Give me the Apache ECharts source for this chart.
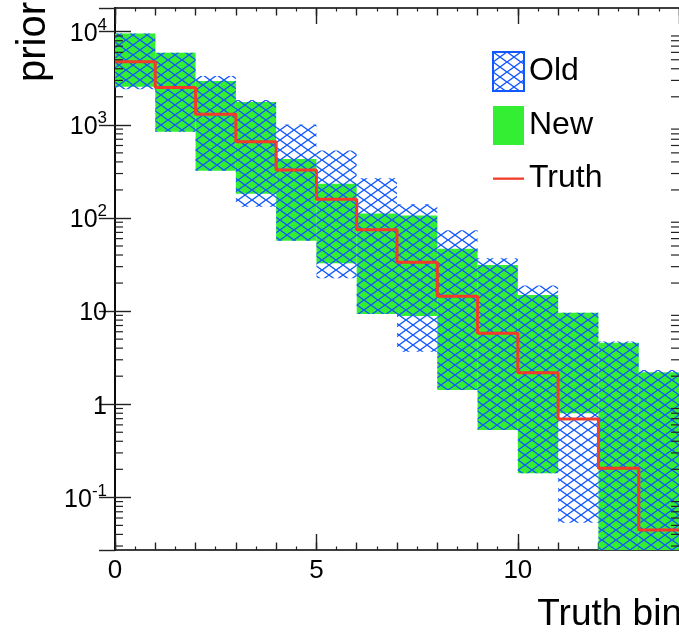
<!DOCTYPE html>
<html>
<head>
<meta charset="utf-8">
<script src="https://cdn.jsdelivr.net/npm/echarts@6/dist/echarts.min.js"></script>
<style>
  html, body { margin: 0; padding: 0; background: #fff; }
  #chart { width: 679px; height: 635px; }
</style>
</head>
<body>
<div id="chart"></div>
<script>
// truth bins, lower edge of each unit-wide bin
var binStart = [0, 1, 2, 3, 4, 5, 6, 7, 8, 9, 10, 11, 12, 13];
// "Old" prior band (hatched)
var oldLow  = [2410, 844, 322, 132, 57, 22.5, 9.3, 3.66, 1.42, 0.528, 0.181, 0.0534, 0.01, 0.01];
var oldHigh = [9560, 5950, 3340, 1850, 1010, 530, 267, 140, 73.7, 36.9, 18.8, 9.6, 4.71, 2.33];
// "New" prior band (green)
var newLow  = [2570, 844, 322, 182, 57, 32.6, 9.3, 8.85, 1.42, 0.528, 0.181, 0.798, 0.01, 0.01];
var newHigh = [9560, 5950, 2960, 1760, 430, 233, 112, 106, 46.6, 31.2, 14.9, 9.6, 4.57, 2.2];
// truth histogram
var truth   = [4760, 2520, 1300, 659, 327, 159, 74.8, 33.4, 14.4, 5.77, 2.18, 0.693, 0.205, 0.0445];

var xMin = 0, xMax = 14;
var yMin = 0.0272, yMax = 17970;
var minorMult = [2, 3, 4, 5, 6, 7, 8, 9];
var decadePow = [-2, -1, 0, 1, 2, 3, 4];

var FONT = 'Liberation Sans';
var BLUE = '#1258ff', GREEN = '#33ee33', RED = '#f03c28', TICK = '#222';

function makeHatch() {
  var c = document.createElement('canvas');
  c.width = 14; c.height = 10;
  var g = c.getContext('2d');
  g.strokeStyle = BLUE;
  g.lineWidth = 1.4;
  g.beginPath();
  g.moveTo(0, 0); g.lineTo(14, 10);
  g.moveTo(0, 10); g.lineTo(14, 0);
  g.stroke();
  return { image: c, repeat: 'repeat' };
}
var hatch = makeHatch();

var oldData = binStart.map(function (x, i) { return [x, oldLow[i], oldHigh[i]]; });
var newData = binStart.map(function (x, i) { return [x, newLow[i], newHigh[i]]; });
var truthData = binStart.map(function (x, i) { return [x, truth[i]]; });
truthData.push([xMax, truth[truth.length - 1]]);

var minorData = [];
decadePow.forEach(function (p) {
  minorMult.forEach(function (m) {
    var v = m * Math.pow(10, p);
    if (v > yMin && v < yMax) minorData.push([0, v]);
  });
});

function bandRenderer(fill) {
  return function (params, api) {
    var cs = params.coordSys;
    var x0 = api.value(0);
    var p1 = api.coord([x0, api.value(2)]);
    var p2 = api.coord([x0 + 1, api.value(1)]);
    var top = Math.max(p1[1], cs.y);
    var bot = Math.min(p2[1], cs.y + cs.height);
    return {
      type: 'rect',
      shape: { x: p1[0], y: top, width: p2[0] - p1[0], height: bot - top },
      style: { fill: fill }
    };
  };
}

function minorTickItem(params, api) {
  var cs = params.coordSys;
  var p = api.coord([0, api.value(1)]);
  var st = { stroke: TICK, lineWidth: 1.2 };
  return {
    type: 'group',
    children: [
      { type: 'line', shape: { x1: cs.x, y1: p[1], x2: cs.x + 8, y2: p[1] }, style: st },
      { type: 'line', shape: { x1: cs.x + cs.width - 8, y1: p[1], x2: cs.x + cs.width, y2: p[1] }, style: st }
    ]
  };
}

function xAxisDef(pos, major) {
  return {
    type: 'value', min: xMin, max: xMax, position: pos,
    interval: major ? 5 : 1,
    axisLine: { show: major, lineStyle: { color: '#000', width: 1.6 } },
    axisTick: { show: true, inside: true, length: major ? 16 : 7.5, lineStyle: { color: TICK, width: 1.4 } },
    minorTick: { show: !major, splitNumber: 2, length: 3.5, lineStyle: { color: TICK, width: 1.2 } },
    axisLabel: {
      show: major && pos === 'bottom', margin: 8, color: '#000',
      fontFamily: FONT, fontSize: 26, showMaxLabel: false
    },
    splitLine: { show: false }
  };
}

function yAxisDef(pos) {
  return {
    type: 'log', logBase: 10, min: yMin, max: yMax, position: pos,
    axisLine: { show: true, lineStyle: { color: '#000', width: 1.6 } },
    axisTick: { show: true, inside: true, length: 16, lineStyle: { color: TICK, width: 1.4 } },
    axisLabel: {
      show: pos === 'left', margin: 8, color: '#000',
      fontFamily: FONT, fontSize: 25,
      showMinLabel: false, showMaxLabel: false,
      formatter: function (v) {
        var e = Math.round(Math.log10(v));
        if (e === 0) return '{b|1}';
        if (e === 1) return '{b|10}';
        return '{b|10}{s|' + e + '}';
      },
      rich: {
        b: { fontFamily: FONT, fontSize: 25, color: '#000', lineHeight: 30, verticalAlign: 'bottom' },
        s: { fontFamily: FONT, fontSize: 17, color: '#000', lineHeight: 30, verticalAlign: 'top', padding: [0, 0, 12, 0] }
      }
    },
    splitLine: { show: false }
  };
}

// thin horizontal bar centred in a 31x39 box (legend line marker)
var lineIcon = 'path://M0,0 M0,18.5 L31,18.5 L31,20.8 L0,20.8 Z M31,39';

var chart = echarts.init(document.getElementById('chart'));
chart.setOption({
  animation: false,
  backgroundColor: '#fff',
  grid: { left: 115, top: 8, right: -2, bottom: 85, containLabel: false },
  xAxis: [xAxisDef('bottom', true), xAxisDef('bottom', false), xAxisDef('top', true), xAxisDef('top', false)],
  yAxis: [yAxisDef('left'), yAxisDef('right')],
  legend: {
    orient: 'vertical', left: 487, top: 46,
    itemWidth: 31, itemHeight: 39, itemGap: 14,
    textStyle: { fontFamily: FONT, fontSize: 32, color: '#000' },
    selectedMode: false,
    data: [
      { name: 'Old', icon: 'rect', itemStyle: { color: hatch, borderColor: BLUE, borderWidth: 2 } },
      { name: 'New', icon: 'rect', itemStyle: { color: GREEN, borderWidth: 0 } },
      { name: 'Truth', icon: lineIcon, itemStyle: { color: RED, borderWidth: 0 } }
    ]
  },
  graphic: [
    {
      type: 'text', x: 682, y: 615,
      style: { text: 'Truth bin', font: '37px "Liberation Sans"', fill: '#000', align: 'right', verticalAlign: 'middle' }
    },
    {
      type: 'text', x: 34, y: 2, rotation: Math.PI / 2,
      style: { text: 'prior', font: '40px "Liberation Sans"', fill: '#000', align: 'right', verticalAlign: 'middle' }
    }
  ],
  series: [
    {
      name: 'New', type: 'custom', xAxisIndex: 0, yAxisIndex: 0,
      renderItem: bandRenderer(GREEN), data: newData,
      itemStyle: { color: GREEN }, silent: true, z: 2
    },
    {
      name: 'Old', type: 'custom', xAxisIndex: 0, yAxisIndex: 0,
      renderItem: bandRenderer(hatch), data: oldData,
      itemStyle: { color: BLUE }, silent: true, z: 3
    },
    {
      name: 'Truth', type: 'line', xAxisIndex: 0, yAxisIndex: 0,
      step: 'end', data: truthData, symbol: 'none',
      lineStyle: { color: RED, width: 3 }, itemStyle: { color: RED }, silent: true, z: 4
    },
    {
      name: 'minorTicks', type: 'custom', xAxisIndex: 0, yAxisIndex: 0,
      renderItem: minorTickItem, data: minorData, silent: true, z: 5
    }
  ]
});
</script>
</body>
</html>
